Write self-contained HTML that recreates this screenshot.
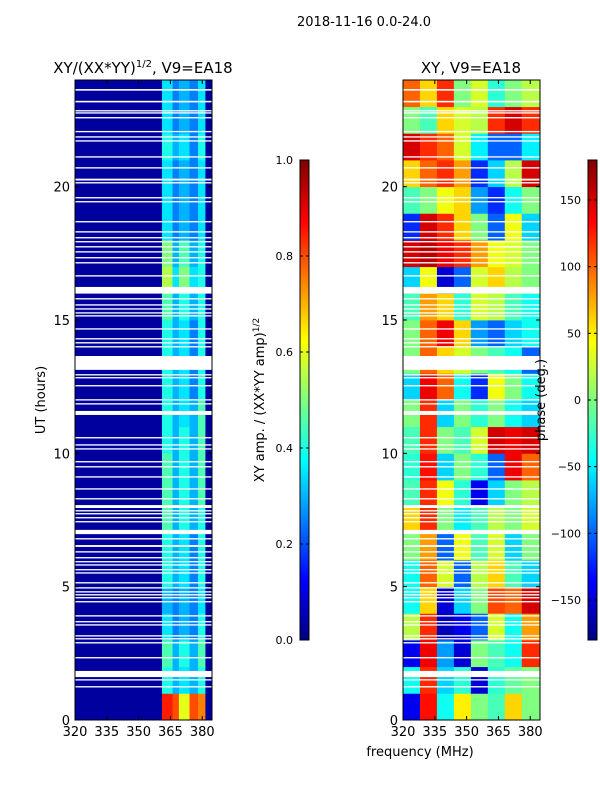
<!DOCTYPE html>
<html><head><meta charset="utf-8"><style>
body{margin:0;background:#fff;width:600px;height:800px;overflow:hidden;font-family:"Liberation Sans","DejaVu Sans",sans-serif}
svg text{font-family:"DejaVu Sans","Liberation Sans",sans-serif;fill:#000}
</style></head><body>
<svg id="fig" width="600" height="800" xmlns="http://www.w3.org/2000/svg">
<text x="364" y="26" font-size="13" text-anchor="middle">2018-11-16 0.0-24.0</text>
<text x="143" y="73" font-size="15" text-anchor="middle">XY/(XX*YY)<tspan font-size="10" dy="-6">1/2</tspan><tspan dy="6">, V9=EA18</tspan></text>
<text x="471" y="73" font-size="15" text-anchor="middle">XY, V9=EA18</text>
<text transform="translate(45,400) rotate(-90)" font-size="13" text-anchor="middle">UT (hours)</text>
<text x="420" y="756" font-size="13" text-anchor="middle">frequency (MHz)</text>
<text transform="translate(264,400) rotate(-90)" font-size="13" text-anchor="middle">XY amp. / (XX*YY amp)<tspan font-size="9" dy="-5">1/2</tspan></text>
<g id="left"></g>
<g id="right"></g>
<g id="cb"></g>
<text transform="translate(545,400) rotate(-90)" font-size="13" text-anchor="middle">phase (deg.)</text>
</svg>
<script>
const freqRange=[320,384.6];
const hourRange=[0,24];
const xTicks=[320,335,350,365,380];
const yTicks=[0,5,10,15,20];
const ampTicks=[0.0,0.2,0.4,0.6,0.8,1.0];
const phaseTicks=[-150,-100,-50,0,50,100,150];
// amplitude grid: rows = hours 0..23, cols = 4 MHz bins 320..384
const ampCols=[320,324,328,332,336,340,344,348,352,356,361,366,369,374,378,381.5,384.6];
const B=0.03;
const ampGrid=[
[B,B,B,B,B,B,B,B,B,B,0.85,0.8,0.6,0.8,0.75,B],
[B,B,B,B,B,B,B,B,B,B,0.4,0.3,0.35,0.3,0.4,B],
[B,B,B,B,B,B,B,B,B,B,0.45,0.3,0.4,0.3,0.45,B],
[B,B,B,B,B,B,B,B,B,B,0.35,0.25,0.3,0.25,0.4,B],
[B,B,B,B,B,B,B,B,B,B,0.3,0.25,0.3,0.25,0.35,B],
[B,B,B,B,B,B,B,B,B,B,0.4,0.3,0.35,0.25,0.4,B],
[B,B,B,B,B,B,B,B,B,B,0.4,0.3,0.35,0.25,0.4,B],
[B,B,B,B,B,B,B,B,B,B,0.45,0.3,0.4,0.3,0.4,B],
[B,B,B,B,B,B,B,B,B,B,0.45,0.3,0.4,0.3,0.45,B],
[B,B,B,B,B,B,B,B,B,B,0.45,0.3,0.4,0.3,0.45,B],
[B,B,B,B,B,B,B,B,B,B,0.4,0.3,0.4,0.3,0.45,B],
[B,B,B,B,B,B,B,B,B,B,0.4,0.3,0.35,0.3,0.45,B],
[B,B,B,B,B,B,B,B,B,B,0.4,0.3,0.35,0.25,0.4,B],
[B,B,B,B,B,B,B,B,B,B,0.4,0.3,0.35,0.25,0.4,B],
[B,B,B,B,B,B,B,B,B,B,0.4,0.3,0.35,0.25,0.4,B],
[B,B,B,B,B,B,B,B,B,B,0.45,0.3,0.4,0.3,0.4,B],
[B,B,B,B,B,B,B,B,B,B,0.55,0.35,0.5,0.35,0.4,B],
[B,B,B,B,B,B,B,B,B,B,0.5,0.3,0.45,0.3,0.4,B],
[B,B,B,B,B,B,B,B,B,B,0.35,0.25,0.3,0.25,0.35,B],
[B,B,B,B,B,B,B,B,B,B,0.35,0.25,0.3,0.25,0.35,B],
[B,B,B,B,B,B,B,B,B,B,0.35,0.25,0.3,0.25,0.35,B],
[B,B,B,B,B,B,B,B,B,B,0.4,0.3,0.35,0.25,0.4,B],
[B,B,B,B,B,B,B,B,B,B,0.35,0.25,0.3,0.25,0.35,B],
[B,B,B,B,B,B,B,B,B,B,0.35,0.25,0.3,0.25,0.35,B]
];
// phase grid: rows = hours 0..23, cols = 8 MHz bins
const phaseCols=[320,328,336,344,352,360,368,376,384.6];
const phaseGrid=[
[-140,130,-40,50,0,-20,60,0],
[-40,120,-60,-30,-150,-30,-10,0],
[-140,140,-80,-150,0,-20,-40,120],
[20,120,-160,-140,-100,30,-40,80],
[-40,60,-150,-60,0,110,100,150],
[-40,100,30,-100,20,60,-20,-60],
[0,80,-100,40,-20,30,-60,0],
[60,120,0,-50,-20,20,0,30],
[-20,120,40,-30,-140,-60,0,20],
[-30,130,-60,0,-30,-100,140,100],
[-20,120,0,-20,30,150,140,150],
[0,120,-60,0,-30,0,-40,-60],
[-60,140,100,-40,-120,40,0,-40],
[0,100,60,30,0,-20,-40,-100],
[0,100,140,60,-80,-100,-60,-40],
[-20,80,60,-30,30,20,-20,-40],
[-60,40,-150,-100,30,60,20,0],
[150,160,140,120,80,40,30,0],
[-120,150,120,60,0,-100,40,-60],
[-20,0,40,60,-80,-120,-40,0],
[60,100,120,80,-120,-60,20,150],
[150,120,100,30,-50,-100,-100,-50],
[0,-20,60,30,20,120,150,120],
[100,60,120,0,30,-30,0,20]
];
// flagged (white) time ranges in hours
const gaps=[[23.6,23.66],[23.16,23.22],[22.82,22.87],[22.74,22.79],[22.56,22.61],[22.04,22.09],[21.84,21.89],[21.69,21.74],[21.09,21.14],[20.68,20.73],[20.23,20.3],[20.12,20.17],[19.56,19.61],[19.41,19.46],[18.66,18.71],[18.28,18.33],[18.06,18.11],[17.91,17.96],[17.72,17.77],[17.53,17.58],[17.31,17.36],[17.12,17.17],[16.63,16.68],[15.99,16.24],[15.77,15.82],[15.54,15.59],[15.39,15.44],[15.24,15.29],[15.13,15.18],[14.64,14.69],[14.27,14.32],[14.12,14.17],[13.97,14.02],[13.13,13.65],[12.92,12.97],[12.81,12.86],[12.51,12.56],[11.98,12.03],[11.83,11.88],[11.44,11.59],[10.56,10.61],[10.29,10.34],[10.14,10.19],[9.66,9.71],[9.47,9.52],[9.09,9.14],[8.64,8.69],[8.27,8.32],[7.95,8.06],[7.82,7.87],[7.71,7.76],[7.56,7.61],[7.41,7.46],[6.97,7.13],[6.77,6.82],[6.49,6.56],[6.28,6.33],[6.06,6.11],[5.91,5.96],[5.79,5.84],[5.61,5.66],[5.49,5.54],[5.12,5.17],[4.93,4.98],[4.78,4.83],[4.67,4.72],[4.56,4.61],[4.41,4.46],[3.88,3.93],[3.66,3.71],[3.54,3.59],[3.13,3.18],[3.02,3.07],[2.87,2.92],[2.31,2.36],[1.61,1.84],[1.48,1.53],[1.22,1.27]];

const NS='http://www.w3.org/2000/svg';
function mk(tag,attrs,parent){const e=document.createElementNS(NS,tag);for(const k in attrs)e.setAttribute(k,attrs[k]);parent.appendChild(e);return e;}
function jet(v){v=Math.max(0,Math.min(1,v));
 function c(x){return Math.round(255*Math.max(0,Math.min(1,1.5-Math.abs(x))));}
 return 'rgb('+c(4*v-3)+','+c(4*v-2)+','+c(4*v-1)+')';}
const Y0=720,Y1=80;
function yScale(h){return Y0-(h-hourRange[0])/(hourRange[1]-hourRange[0])*(Y0-Y1);}
function panel(gid,x0,x1,cols,grid,norm,name){
 const g=document.getElementById(gid);
 const xs=f=>x0+(f-freqRange[0])/(freqRange[1]-freqRange[0])*(x1-x0);
 grid.forEach((row,r)=>{row.forEach((v,c)=>{
  const xa=xs(cols[c]),xb=xs(cols[c+1]);const ya=yScale(r+1),yb=yScale(r);
  const el=mk('rect',{x:xa,y:ya,width:xb-xa+0.4,height:yb-ya+0.4,fill:jet(norm(v))},g);
  
  
 });});
 gaps.forEach(gp=>{const el=mk('rect',{x:x0,y:yScale(gp[1]),width:x1-x0,height:Math.max(1.2,yScale(gp[0])-yScale(gp[1])),fill:'#fff'},g);
  
  });
 const fr=mk('rect',{x:x0,y:Y1,width:x1-x0,height:Y0-Y1,fill:'none',stroke:'#000','stroke-width':1},g);
 
 
 xTicks.forEach(t=>{const x=xs(t);mk('line',{x1:x,x2:x,y1:Y0,y2:Y0-4,stroke:'#000'},g);mk('line',{x1:x,x2:x,y1:Y1,y2:Y1+4,stroke:'#000'},g);
  const tx=mk('text',{x:x,y:Y0+16,'font-size':13,'text-anchor':'middle'},g);tx.textContent=t;
  
  });
 yTicks.forEach(t=>{const y=yScale(t);mk('line',{x1:x0,x2:x0+4,y1:y,y2:y,stroke:'#000'},g);mk('line',{x1:x1,x2:x1-4,y1:y,y2:y,stroke:'#000'},g);
  const tx=mk('text',{x:x0-5,y:y+5,'font-size':13,'text-anchor':'end'},g);tx.textContent=t;
  
  });
}
panel('left',75,212,ampCols,ampGrid,v=>v,'amp');
panel('right',403,540,phaseCols,phaseGrid,v=>(v+180)/360,'phase');
function colorbar(x,lo,hi,ticks,fmt,name){
 const g=document.getElementById('cb');const top=160,bot=640,w=9;
 for(let i=0;i<120;i++){const v=i/120;const el=mk('rect',{x:x,y:bot-(i+1)*(bot-top)/120,width:w,height:(bot-top)/120+0.5,fill:jet(v+0.5/120)},g);
  
  }
 mk('rect',{x:x,y:top,width:w,height:bot-top,fill:'none',stroke:'#000'},g);
 ticks.forEach(t=>{const y=bot-(t-lo)/(hi-lo)*(bot-top);mk('line',{x1:x,x2:x+3,y1:y,y2:y,stroke:'#000'},g);mk('line',{x1:x+w,x2:x+w-3,y1:y,y2:y,stroke:'#000'},g);
  const tx=mk('text',{x:x-7,y:y+4,'font-size':11,'text-anchor':'end'},g);tx.textContent=fmt(t);
  
  });
}
colorbar(300,0,1,ampTicks,t=>t.toFixed(1),'amp-colorbar');
colorbar(588,-180,180,phaseTicks,t=>t<0?'\u2212'+(-t):''+t,'phase-colorbar');
</script>
</body></html>
